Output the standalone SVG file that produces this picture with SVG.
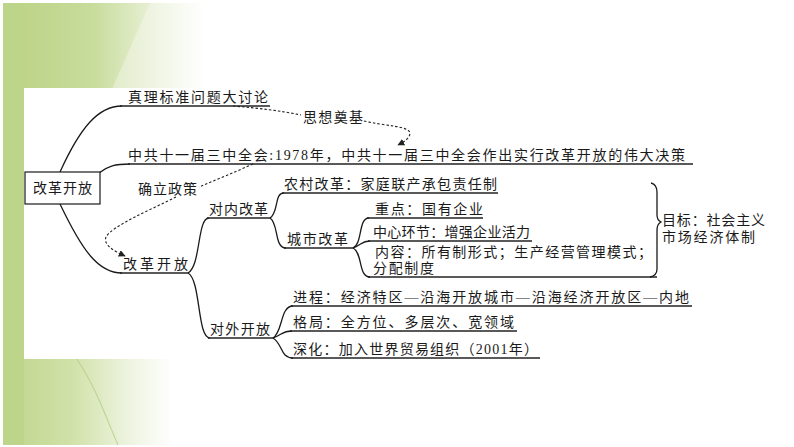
<svg xmlns="http://www.w3.org/2000/svg" width="794" height="447" viewBox="0 0 794 447">
<defs>
<style>
text{font-family:"Liberation Serif","Noto Sans CJK SC",serif;font-size:14px;fill:#1a1a1a}
.ln{fill:none;stroke:#1a1a1a;stroke-width:1.3}
.ul{fill:none;stroke:#222;stroke-width:1.6}
.dash{fill:none;stroke:#222;stroke-width:1.1;stroke-dasharray:2.5 2}
</style>
<linearGradient id="gTop" x1="0" y1="0" x2="1" y2="0">
<stop offset="0" stop-color="#bad283"/>
<stop offset="0.45" stop-color="#c8dc9c"/>
<stop offset="0.7" stop-color="#e3edcc"/>
<stop offset="1" stop-color="#ffffff"/>
</linearGradient>
<linearGradient id="gTop2" x1="0" y1="0" x2="1" y2="0">
<stop offset="0" stop-color="#e4edcf"/>
<stop offset="1" stop-color="#ffffff"/>
</linearGradient>
<linearGradient id="gBot" x1="0" y1="0" x2="1" y2="0">
<stop offset="0" stop-color="#bdd58a"/>
<stop offset="0.4" stop-color="#d0e1a8"/>
<stop offset="0.75" stop-color="#eef4e1"/>
<stop offset="1" stop-color="#ffffff"/>
</linearGradient>
<marker id="arr" viewBox="0 0 10 10" refX="9" refY="5" markerWidth="7" markerHeight="7" orient="auto" markerUnits="userSpaceOnUse">
<path d="M0,0 L10,5 L0,10 z" fill="#222"/>
</marker>
</defs>
<rect width="794" height="447" fill="#ffffff"/>
<g id="background">
<rect x="3" y="3" width="200" height="86" fill="url(#gTop)"/>
<polygon points="150,3 205,3 205,89 112,89" fill="url(#gTop2)" opacity="0.85"/>
<rect x="3" y="358" width="170" height="87" fill="url(#gBot)"/>
<path d="M76,358 C95,385 105,415 118,445" fill="none" stroke="#b3cc80" stroke-width="1.2" opacity="0.7"/>
<rect x="3" y="3" width="21" height="442" fill="#bdd58a"/>
<rect x="24" y="88" width="770" height="271" fill="#ffffff"/>
</g>
<g id="connectors">
<path class="ln" d="M60,172 C80,128 98,106 122,106"/>
<path class="ul" d="M120,106 H270"/>
<path class="ln" d="M99,173 C108,166 115,164 130,164"/>
<path class="ul" d="M128,164 H693"/>
<path class="ln" d="M60,204 C82,250 98,273 122,273"/>
<path class="ul" d="M120,273 H188"/>
<path class="ln" d="M188,273 C201,266 197,218 209,218"/>
<path class="ul" d="M207,218 H270"/>
<path class="ln" d="M188,273 C201,280 197,338 210,338"/>
<path class="ul" d="M208,338 H273"/>
<path class="ln" d="M270,218 C279,212 274,193 284,193"/>
<path class="ul" d="M282,193 H498"/>
<path class="ln" d="M270,218 C279,224 274,248 286,248"/>
<path class="ul" d="M284,248 H353"/>
<path class="ln" d="M353,248 C363,243 358,218 369,218"/>
<path class="ul" d="M367,218 H483"/>
<path class="ln" d="M353,248 C362,245 361,241 370,241"/>
<path class="ul" d="M368,241 H532"/>
<path class="ln" d="M353,248 C363,253 358,277 370,277"/>
<path class="ul" d="M368,277 H657"/>
<path class="ln" d="M273,338 C283,332 280,306 293,306"/>
<path class="ul" d="M291,306 H692"/>
<path class="ln" d="M273,338 C282,335 282,331 292,331"/>
<path class="ul" d="M290,331 H517"/>
<path class="ln" d="M273,338 C283,344 280,358 293,358"/>
<path class="ul" d="M291,358 H540"/>
<path class="ln" d="M651,183 C655,184 657,187 657,192 V215 C657,219 659,221 661,222 C659,223 657,226 657,230 V269 C657,274 655,276 650,277"/>
<path class="dash" d="M233,106 C258,108 282,111 301,115"/>
<path class="dash" d="M364,121 C385,126 409,126 410,133 C410,138 404,142 398,145" marker-end="url(#arr)"/>
<path class="dash" d="M253,164 C235,172 216,180 199,187"/>
<path class="dash" d="M176,197 C150,210 112,226 106,237 C103,245 114,251 125,256" marker-end="url(#arr)"/>
</g>
<g id="n-root">
<rect x="25" y="172" width="75" height="32" fill="#fff" stroke="#1a1a1a" stroke-width="1.2"/>
<text x="33" y="193" textLength="59" lengthAdjust="spacing">改革开放</text>
</g>
<g id="n-zhenli"><text x="128" y="102" textLength="140" lengthAdjust="spacing">真理标准问题大讨论</text></g>
<g id="l-sixiang"><text x="303" y="122" textLength="60" lengthAdjust="spacing">思想奠基</text></g>
<g id="n-sanzhong"><text x="128" y="160" textLength="557" lengthAdjust="spacing">中共十一届三中全会:1978年，中共十一届三中全会作出实行改革开放的伟大决策</text></g>
<g id="l-queli"><text x="138" y="194" textLength="59" lengthAdjust="spacing">确立政策</text></g>
<g id="n-gaige"><text x="123" y="269" textLength="65" lengthAdjust="spacing">改革开放</text></g>
<g id="n-duinei"><text x="209" y="214" textLength="59" lengthAdjust="spacing">对内改革</text></g>
<g id="n-nongcun"><text x="284" y="189" textLength="213" lengthAdjust="spacing">农村改革：家庭联产承包责任制</text></g>
<g id="n-chengshi"><text x="287" y="244" textLength="61" lengthAdjust="spacing">城市改革</text></g>
<g id="n-zhongdian"><text x="375" y="214" textLength="108" lengthAdjust="spacing">重点：国有企业</text></g>
<g id="n-zhongxin"><text x="373" y="237" textLength="157" lengthAdjust="spacing">中心环节：增强企业活力</text></g>
<g id="n-neirong">
<text x="375" y="257" textLength="277" lengthAdjust="spacing">内容：所有制形式；生产经营管理模式；</text>
<text x="373" y="273" textLength="61" lengthAdjust="spacing">分配制度</text>
</g>
<g id="n-mubiao">
<text x="662" y="225" textLength="103" lengthAdjust="spacing">目标：社会主义</text>
<text x="662" y="242" textLength="93" lengthAdjust="spacing">市场经济体制</text>
</g>
<g id="n-duiwai"><text x="210" y="334" textLength="60" lengthAdjust="spacing">对外开放</text></g>
<g id="n-jincheng"><text x="293" y="302" textLength="396" lengthAdjust="spacing">进程：经济特区—沿海开放城市—沿海经济开放区—内地</text></g>
<g id="n-geju"><text x="293" y="327" textLength="221" lengthAdjust="spacing">格局：全方位、多层次、宽领域</text></g>
<g id="n-shenhua"><text x="293" y="354" textLength="245" lengthAdjust="spacing">深化：加入世界贸易组织（2001年）</text></g>
</svg>
